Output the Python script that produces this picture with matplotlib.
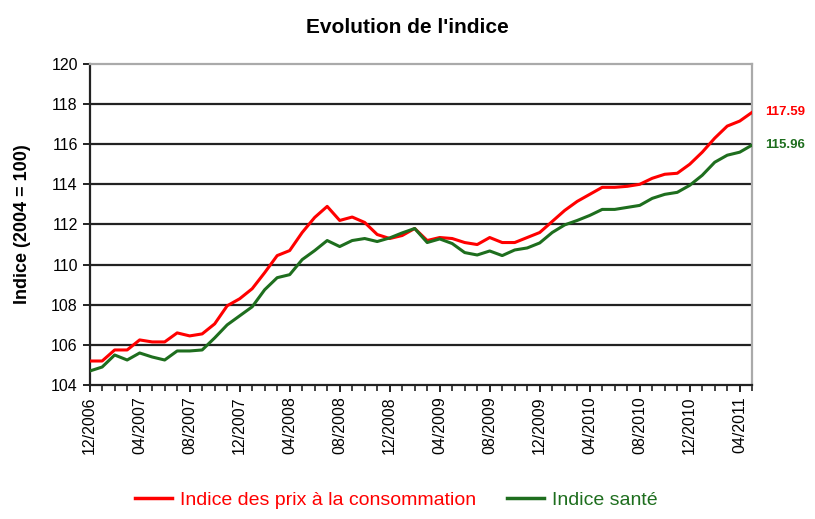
import numpy as np
import matplotlib
matplotlib.use('Agg')
import matplotlib.pyplot as plt
from matplotlib.ticker import MultipleLocator

plt.rcParams['font.family'] = ['Liberation Sans', 'DejaVu Sans']

# Monthly values, 12/2006 -> 05/2011
months = ['12/2006', '01/2007', '02/2007', '03/2007', '04/2007', '05/2007', '06/2007', '07/2007',
          '08/2007', '09/2007', '10/2007', '11/2007', '12/2007', '01/2008', '02/2008', '03/2008',
          '04/2008', '05/2008', '06/2008', '07/2008', '08/2008', '09/2008', '10/2008', '11/2008',
          '12/2008', '01/2009', '02/2009', '03/2009', '04/2009', '05/2009', '06/2009', '07/2009',
          '08/2009', '09/2009', '10/2009', '11/2009', '12/2009', '01/2010', '02/2010', '03/2010',
          '04/2010', '05/2010', '06/2010', '07/2010', '08/2010', '09/2010', '10/2010', '11/2010',
          '12/2010', '01/2011', '02/2011', '03/2011', '04/2011', '05/2011']

ipc = [105.2, 105.2, 105.75, 105.75, 106.25, 106.15, 106.15, 106.6, 106.45, 106.55,
       107.05, 107.95, 108.3, 108.8, 109.6, 110.45, 110.7, 111.6, 112.35, 112.9,
       112.2, 112.37, 112.1, 111.5, 111.3, 111.45, 111.8, 111.2, 111.35, 111.3,
       111.1, 111.0, 111.35, 111.1, 111.1, 111.35, 111.6, 112.15, 112.7, 113.15,
       113.5, 113.85, 113.85, 113.9, 114.0, 114.3, 114.5, 114.55, 115.0, 115.6,
       116.3, 116.9, 117.15, 117.59]

sante = [104.7, 104.9, 105.5, 105.25, 105.6, 105.4, 105.25, 105.7, 105.7, 105.75,
         106.35, 107.0, 107.45, 107.9, 108.75, 109.35, 109.5, 110.25, 110.7, 111.2,
         110.9, 111.2, 111.3, 111.15, 111.33, 111.58, 111.8, 111.1, 111.28, 111.05,
         110.6, 110.48, 110.68, 110.45, 110.73, 110.83, 111.08, 111.6, 111.98, 112.2,
         112.45, 112.75, 112.75, 112.85, 112.95, 113.3, 113.5, 113.6, 113.95, 114.45,
         115.1, 115.45, 115.6, 115.96]

red = '#ff0000'
green = '#1e6e1e'

x = np.arange(len(months))

fig = plt.figure(figsize=(8.15, 5.19), dpi=100)
ax = fig.add_axes([0.110, 0.258, 0.813, 0.619])

# horizontal grid lines
for v in range(106, 120, 2):
    ax.axhline(v, color='#222222', linewidth=1.6, zorder=1)

ax.plot(x, ipc, color=red, linewidth=2.2, zorder=3)
ax.plot(x, sante, color=green, linewidth=2.2, zorder=3)

ax.set_xlim(0, len(months) - 1)
ax.set_ylim(104, 120)
ax.set_yticks(range(104, 121, 2))
ax.set_xticks(x[::4])
ax.set_xticklabels(months[::4], rotation=90)
ax.xaxis.set_minor_locator(MultipleLocator(1))
ax.tick_params(axis='both', labelsize=11.5, width=1.4, length=5, color='#222222')
ax.tick_params(axis='x', which='minor', length=4, width=1.2, color='#222222')
ax.tick_params(axis='x', pad=3)

for side in ['left', 'bottom']:
    ax.spines[side].set_color('#222222')
    ax.spines[side].set_linewidth(1.6)
for side in ['top', 'right']:
    ax.spines[side].set_color('#aaaaaa')
    ax.spines[side].set_linewidth(1.6)

ax.set_ylabel('Indice (2004 = 100)', fontsize=13, fontweight='bold')
ax.yaxis.set_label_coords(-0.088, 0.5)
fig.suptitle("Evolution de l'indice", fontsize=15, fontweight='bold', y=0.965)

# end values
ax.annotate(f'{ipc[-1]:.2f}', xy=(x[-1], ipc[-1]), xytext=(9, 0), textcoords='offset points',
            color=red, fontsize=9.5, fontweight='bold', va='center')
ax.annotate(f'{sante[-1]:.2f}', xy=(x[-1], sante[-1]), xytext=(9, 0), textcoords='offset points',
            color=green, fontsize=9.5, fontweight='bold', va='center')

h1, = ax.plot([], [], color=red, linewidth=2.5)
h2, = ax.plot([], [], color=green, linewidth=2.5)
leg = fig.legend([h1, h2], ['Indice des prix à la consommation', 'Indice santé'],
                 loc='center left', bbox_to_anchor=(0.166, 0.037), borderaxespad=0, borderpad=0,
                 ncol=2, frameon=False, fontsize=14, handlelength=1.9, handletextpad=0.4,
                 columnspacing=1.6)
leg.get_texts()[0].set_color(red)
leg.get_texts()[1].set_color(green)

fig.savefig('out.png', dpi=100)
